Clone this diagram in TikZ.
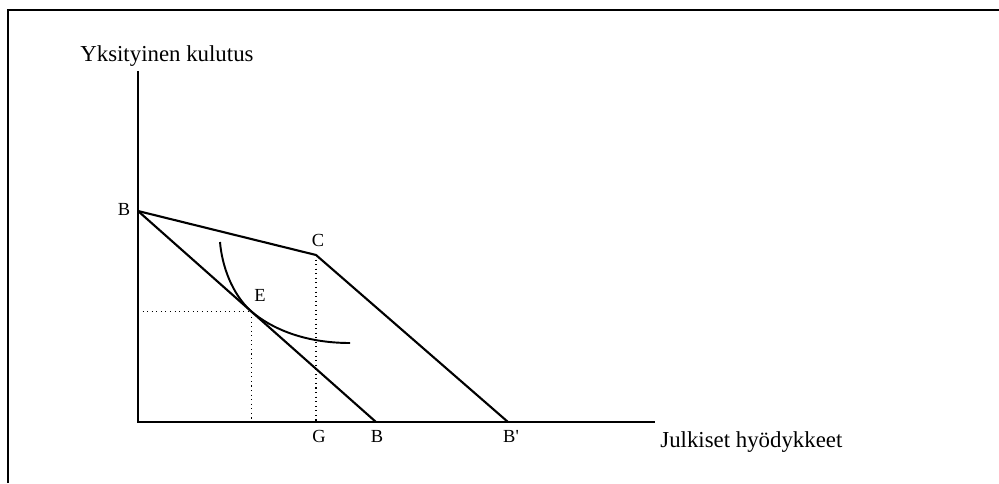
\documentclass[tikz,border=0pt]{standalone}
\usepackage{fontspec}
\setmainfont{Liberation Serif}
\usetikzlibrary{calc, positioning}

\tikzset{
   axislbl/.style={font=\fontsize{13}{15}\selectfont, inner sep=0pt},
   ptlbl/.style={font=\fontsize{10.5}{12}\selectfont, inner sep=0pt},
   guide/.style={dotted, line width=0.6pt},
   budget/.style={line width=1.2pt}
}

\begin{document}
\begin{tikzpicture}[x=0.02cm, y=-0.02cm]
            \useasboundingbox (0,0) rectangle (999,483);
            % frame
            \draw[line width=1.2pt] (8,483) -- (8,10) -- (999,10);
            % axes
            \coordinate (O) at (138,422);
            \coordinate (ytop) at (138,71);
            \coordinate (xend) at (655,422);
            \draw[line width=1.5pt] (ytop) -- (O) -- (xend);
            \node[axislbl, anchor=base west] (ylbl) at (80,62) {Yksityinen kulutus};
            \node[axislbl, anchor=base west] (xlbl) at (660,447) {Julkiset hyödykkeet};
            % budget lines
            \coordinate (B1) at (138,211);
            \coordinate (C) at (316,255);
            \coordinate (B2) at (376,422);
            \coordinate (B3) at (508,422);
            \coordinate (G) at (316,422);
            \coordinate (E) at ($(B1)!0.475!(B2)$);
            \draw[budget] (B1) -- (B2);
            \draw[budget] (B1) -- (C) -- (B3);
            % indifference curve
            \draw[line width=1.1pt] (220,242) .. controls (222,266) and (232,294) .. (E)
               .. controls (272,329) and (305,343) .. (350,343);
            % guides
            \draw[guide] (E -| O) -- (E) -- (E |- O);
            \draw[guide] (C) -- (G);
            % labels
            \node[ptlbl] (lB1) at (124,209) {B};
            \node[ptlbl] (lC) at (318,240) {C};
            \node[ptlbl] (lE) at (260,295) {E};
            \node[ptlbl] (lG) at (319,436) {G};
            \node[ptlbl] (lB2) at (377,436) {B};
            \node[ptlbl] (lB3) at (511,436) {B\textquotesingle};
         \end{tikzpicture}
\end{document}
